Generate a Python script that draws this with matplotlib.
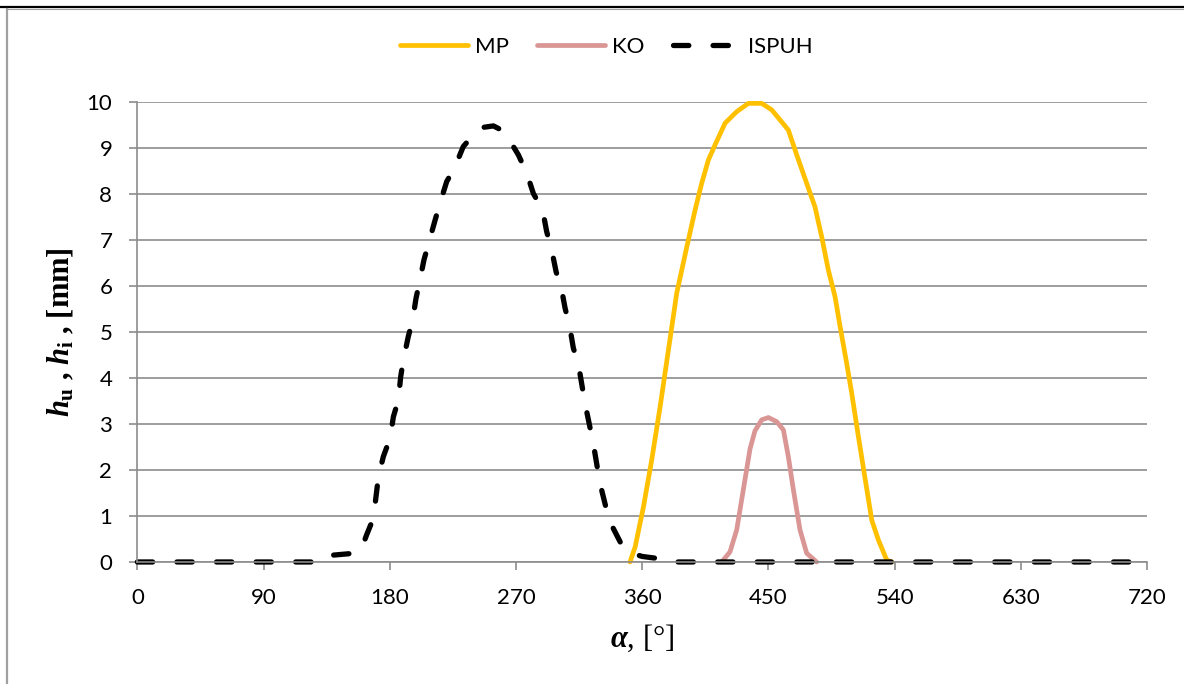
import matplotlib
matplotlib.use('Agg')
import matplotlib.pyplot as plt
from matplotlib.lines import Line2D

plt.rcParams['font.family'] = ['Lato', 'DejaVu Sans']
plt.rcParams['mathtext.fontset'] = 'custom'
plt.rcParams['mathtext.it'] = 'Liberation Serif:italic:bold'
plt.rcParams['mathtext.bf'] = 'Liberation Serif:bold'
plt.rcParams['mathtext.rm'] = 'Liberation Serif:bold'

# MP - lift of the exhaust cam
mp_a = [351.3, 355, 360.9, 366.8, 372.8, 378.7, 384.6, 391.8, 397.7, 402.4, 407.2,
        412, 419.1, 427.4, 435.7, 445.2, 452.3, 458.3, 464.2, 470.2, 477.3, 483.2,
        488, 492.7, 497.5, 501.1, 505.8, 509.4, 514.2, 518.9, 523.7, 528.4, 534.4, 538]
mp_h = [0, 0.33, 1.2, 2.22, 3.38, 4.61, 5.84, 6.85, 7.65, 8.23, 8.74,
        9.07, 9.54, 9.79, 9.97, 9.97, 9.83, 9.61, 9.39, 8.85, 8.23, 7.72,
        7.07, 6.35, 5.77, 5.12, 4.32, 3.67, 2.72, 1.82, 0.91, 0.48, 0.04, 0]

# KO
ko_a = [416.7, 422.6, 427.4, 432.1, 436.9, 440.4, 445.2, 450, 455.9, 460.7,
        464.2, 467.8, 472.5, 477.3, 484.4]
ko_h = [0, 0.22, 0.7, 1.57, 2.46, 2.85, 3.09, 3.14, 3.05, 2.87,
        2.29, 1.57, 0.7, 0.19, 0]

# ISPUH
is_a = [0, 130, 140, 155, 160, 163.5, 168.3, 171.9, 175.4, 180.2, 182.6, 186.1,
        187.8, 189.7, 193.2, 196.3, 198.7, 201.5, 204.4, 208, 212.3, 215.8, 220.6,
        226.5, 232.4, 240.8, 247, 253.9, 259, 264.6, 271.7, 277.6, 282.4, 289,
        291.9, 295.5, 298.6, 302.6, 305, 308.5, 310.9, 314.5, 319.2, 325.1, 329.9,
        334.6, 338.2, 345.4, 350, 353.7, 360, 365, 370.3, 377.5, 720]
is_h = [0, 0, 0.15, 0.19, 0.3, 0.59, 0.95, 1.85, 2.29, 2.69, 3.16, 3.52,
        4.03, 4.39, 4.9, 5.26, 5.73, 6.13, 6.57, 6.96, 7.43, 7.8, 8.27,
        8.59, 9.03, 9.33, 9.45, 9.48, 9.4, 9.21, 8.85, 8.46, 8.01, 7.65,
        7.18, 6.78, 6.31, 5.91, 5.52, 5.08, 4.65, 4.3, 3.45, 2.58, 1.71,
        1.13, 0.8, 0.37, 0.25, 0.18, 0.12, 0.1, 0.08, 0, 0]

xticks = [0, 90, 180, 270, 360, 450, 540, 630, 720]
yticks = list(range(0, 11))

fig = plt.figure(figsize=(11.84, 6.84), dpi=100)
ax = fig.add_axes([0.116, 0.1784, 0.8528, 0.6725])

ax.plot(mp_a, mp_h, color='#FFC000', lw=3.4, solid_capstyle='round',
        solid_joinstyle='round', label='MP', clip_on=False)
ax.plot(ko_a, ko_h, color='#D99694', lw=3.4, solid_capstyle='round',
        solid_joinstyle='round', label='KO', clip_on=False)
ax.plot(is_a, is_h, color='black', lw=3.8, ls=(0, (2.9, 4.6)),
        dash_capstyle='round', dash_joinstyle='round', label='ISPUH', clip_on=False)

ax.set_xlim(0, 720)
ax.set_ylim(0, 10)
ax.set_xticks(xticks)
ax.set_yticks(yticks)
ax.grid(axis='y', color='#8c8c8c', lw=1.2)
ax.set_axisbelow(True)
for s in ['top', 'right']:
    ax.spines[s].set_visible(False)
for s in ['left', 'bottom']:
    ax.spines[s].set_color('#8c8c8c')
    ax.spines[s].set_linewidth(1.2)
ax.tick_params(axis='both', colors='#8c8c8c', labelcolor='black', labelsize=16,
               length=6, width=1.2)
ax.tick_params(axis='x', pad=13)
ax.tick_params(axis='y', pad=12)

ax.set_xlabel(r'$\alpha$, [°]', fontsize=22, family='Liberation Serif', labelpad=10)
ax.set_ylabel(r'$h_\mathbf{u}$ , $h_\mathbf{i}$ , [mm]', fontsize=22,
              family='Liberation Serif', fontweight='bold', labelpad=7)

fig.legend(loc='center', bbox_to_anchor=(0.512, 0.931), ncol=3, frameon=False,
           fontsize=16, handlelength=3.05, handletextpad=0.3, columnspacing=1.3)

# frame lines of the cut-out
fig.add_artist(Line2D([0, 1], [0.9898, 0.9898], color='black', lw=1.6))
fig.add_artist(Line2D([0.007, 1], [0.9868, 0.9868], color='#a0a0a0', lw=0.8))
fig.add_artist(Line2D([0.0063, 0.0063], [0, 0.987], color='#a0a0a0', lw=1.6))

fig.savefig('out.png', dpi=100)
